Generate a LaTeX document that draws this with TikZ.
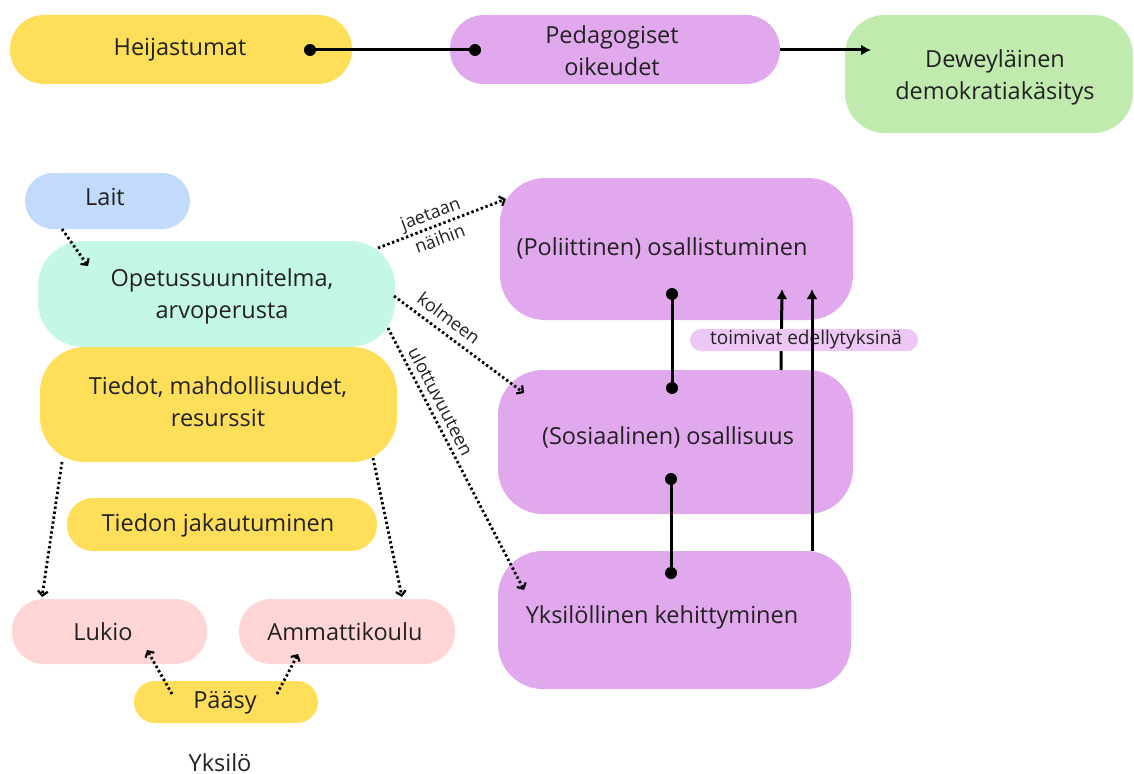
\documentclass[tikz,border=0pt]{standalone}
\usepackage{fontspec}
\setmainfont{Open Sans}
\usetikzlibrary{arrows.meta,calc}
\definecolor{cyel}{HTML}{FFDE59}
\definecolor{cpur}{HTML}{E2A8EE}
\definecolor{cgrn}{HTML}{C1EBAE}
\definecolor{cblu}{HTML}{C2DBFC}
\definecolor{cmint}{HTML}{C5F7E7}
\definecolor{cpink}{HTML}{FFD5D6}
\definecolor{clab}{HTML}{EDC7F6}
\definecolor{ctext}{HTML}{222222}
\begin{document}
\begin{tikzpicture}[x=1pt,y=-1pt,
  box/.style={draw=none, rectangle, inner sep=0pt, align=center, text=ctext,
    font=\fontsize{23.5}{32}\selectfont},
  txt/.style={inner sep=0pt, align=center, text=ctext, font=\fontsize{23.5}{32}\selectfont},
  small/.style={inner sep=0pt, align=center, text=ctext, font=\fontsize{18}{27}\selectfont},
  solidline/.style={line width=3pt, black},
  solidarrow/.style={line width=3pt, black, -{Latex[length=10pt,width=11pt]}},
  dotarrow/.style={line width=2.8pt, black, dash pattern=on 2.4pt off 2.6pt,
    -{Straight Barb[length=4.5pt,width=10pt,line width=2.2pt]}},
  dotend/.style={black}
]
\useasboundingbox (0,0) rectangle (1134,773);
\fill[white] (0,0) rectangle (1134,773);

% top row
\node[box, fill=cyel, minimum width=342pt, minimum height=69pt, rounded corners=34pt] (heij) at (181,49.5) {};
\node[txt] (heijt) at (180,50) {Heijastumat};
\node[box, fill=cpur, minimum width=330pt, minimum height=69pt, rounded corners=34pt] (ped) at (615,49.5) {};
\node[txt] (pedt) at (612,51) {Pedagogiset\\oikeudet};
\node[box, fill=cgrn, minimum width=288pt, minimum height=118pt, rounded corners=40pt] (dew) at (989,74) {};
\node[txt] (dewt) at (995,77) {Deweyläinen\\demokratiakäsitys};

% left column
\node[box, fill=cblu, minimum width=165pt, minimum height=56pt, rounded corners=28pt] (lait) at (107.5,201) {};
\node[txt] (laitt) at (105,197) {Lait};
\node[box, fill=cmint, minimum width=357pt, minimum height=106pt, rounded corners=45pt] (ops) at (216.5,294) {};
\node[txt] (opst) at (222,296) {Opetussuunnitelma,\\arvoperusta};
\node[box, fill=cyel, minimum width=357pt, minimum height=115pt, rounded corners=45pt] (tied) at (218.5,404.5) {};
\node[txt] (tiedt) at (218,402) {Tiedot, mahdollisuudet,\\resurssit};
\node[box, fill=cyel, minimum width=310pt, minimum height=53pt, rounded corners=26pt] (tjak) at (222,524.5) {};
\node[txt] (tjakt) at (218,525) {Tiedon jakautuminen};
\node[box, fill=cpink, minimum width=195pt, minimum height=65pt, rounded corners=32pt] (luk) at (109.5,631.5) {};
\node[txt] (lukt) at (103,632) {Lukio};
\node[box, fill=cpink, minimum width=216pt, minimum height=65pt, rounded corners=32pt] (amm) at (347,631.5) {};
\node[txt] (ammt) at (345,632) {Ammattikoulu};
\node[box, fill=cyel, minimum width=184pt, minimum height=42pt, rounded corners=21pt] (paa) at (226,702) {};
\node[txt] (paat) at (225,703) {Pääsy};
\node[txt, anchor=base] (yksilo) at (220,771) {Yksilö};

% right column
\node[box, fill=cpur, minimum width=353pt, minimum height=142pt, rounded corners=45pt] (pol) at (676.5,249) {};
\node[txt] (polt) at (662,248) {(Poliittinen) osallistuminen};
\node[box, fill=cpur, minimum width=355pt, minimum height=144pt, rounded corners=45pt] (sos) at (675.5,442) {};
\node[txt] (sost) at (668,437) {(Sosiaalinen) osallisuus};
\node[box, fill=cpur, minimum width=353pt, minimum height=138pt, rounded corners=45pt] (yks) at (674.5,620) {};
\node[txt] (ykst) at (662,617) {Yksilöllinen kehittyminen};

% top connectors
\coordinate (h1) at (310,50);
\coordinate (p1) at (475,50);
\draw[solidline] (h1) -- (p1);
\fill[dotend] (h1) circle[radius=6];
\fill[dotend] (p1) circle[radius=6];
\coordinate (p2) at (ped.east |- 0,50);
\coordinate (d1) at (871,50);
\draw[solidarrow] (p2) -- (d1);

% vertical connectors right
\coordinate (a1) at (672,294);
\coordinate (a2) at (672,388);
\draw[solidline] (a1) -- (a2);
\fill[dotend] (a1) circle[radius=6];
\fill[dotend] (a2) circle[radius=6];
\coordinate (b1) at (671,479);
\coordinate (b2) at (671,573);
\draw[solidline] (b1) -- (b2);
\fill[dotend] (b1) circle[radius=6];
\fill[dotend] (b2) circle[radius=6];

\coordinate (s1) at (781,370);
\coordinate (s2) at (782,289);
\draw[solidarrow] (s1) -- (s2);
\node[draw=none, fill=clab, rounded corners=11pt, minimum width=228pt, minimum height=22pt, inner sep=0pt] (toim) at (804,340) {};
\node[small, font=\fontsize{19}{23}\selectfont] (toimt) at (806,339.5) {toimivat edellytyksinä};
\coordinate (y1) at (812,551);
\coordinate (y2) at (812,289);
\draw[solidarrow] (y1) -- (y2);

% dotted arrows
\coordinate (l1) at (62,229);
\coordinate (l2) at (88,266);
\draw[dotarrow] (l1) -- (l2);

\coordinate (o1) at (378,248);
\coordinate (o2) at (506,199);
\draw[dotarrow] (o1) -- (o2);
\node[small, rotate=20.6] (lab1) at (435,226) {jaetaan\\näihin};

\coordinate (o3) at (394,296);
\coordinate (o4) at (524,393);
\draw[dotarrow] (o3) -- (o4);
\node[small, rotate=-36.7] (lab2) at (449,318) {kolmeen};

\coordinate (o5) at (388,328);
\coordinate (o6) at (524,590);
\draw[dotarrow] (o5) -- (o6);
\node[small, rotate=-62.6] (lab3) at (441,401) {ulottuvuuteen};

\coordinate (t1) at (62,462);
\coordinate (t2) at (42,597);
\draw[dotarrow] (t1) -- (t2);
\coordinate (t3) at (373,458);
\coordinate (t4) at (402,597);
\draw[dotarrow] (t3) -- (t4);

\coordinate (q1) at (172,694);
\coordinate (q2) at (147,650);
\draw[dotarrow] (q1) -- (q2);
\coordinate (q3) at (277,694);
\coordinate (q4) at (298,654);
\draw[dotarrow] (q3) -- (q4);
\end{tikzpicture}
\end{document}
